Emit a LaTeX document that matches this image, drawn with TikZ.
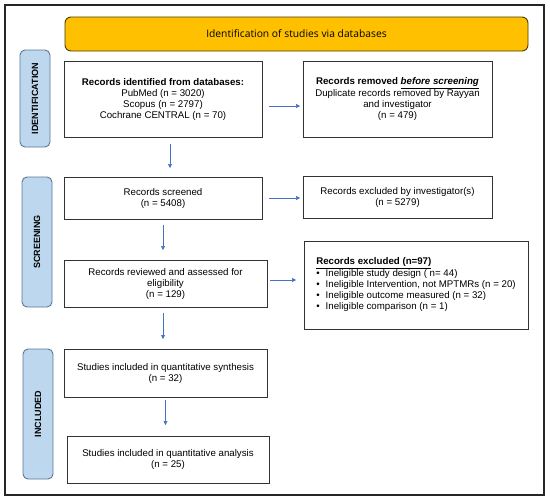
\documentclass[tikz,border=0pt]{standalone}
\usepackage{fontspec}
\setmainfont{Liberation Sans}
\newfontfamily\bannerfont{Open Sans}
\usetikzlibrary{arrows.meta,calc}
\newcommand\myul[1]{\underline{#1}}
\definecolor{bannerfill}{HTML}{FFC000}
\definecolor{bannerline}{HTML}{4A3C00}
\definecolor{labfill}{HTML}{BDD7EE}
\definecolor{labline}{HTML}{5A7894}
\definecolor{arrowblue}{HTML}{4472C4}
\definecolor{boxline}{HTML}{333333}
\begin{document}
\begin{tikzpicture}[x=1pt,y=-1pt,
  every node/.style={inner sep=0pt,outer sep=0pt},
  boxnode/.style={draw=boxline,line width=0.9pt,fill=white,align=center,
    font=\fontsize{9.7}{11}\selectfont},
  phase/.style={draw=labline,line width=0.9pt,fill=labfill,rounded corners=5pt,
    minimum width=30pt,font=\fontsize{9}{11}\selectfont\bfseries},
  flow/.style={draw=arrowblue,line width=0.6pt,-{Triangle[length=4pt,width=4pt]}}]
\useasboundingbox (0,0) rectangle (550,499);
\draw[line width=1.4pt,draw=black!85] (5,5) rectangle (544,495);

\node[draw=bannerline,line width=0.9pt,fill=bannerfill,rounded corners=6pt,
  minimum width=463pt,minimum height=34pt,font=\bannerfont\fontsize{10.3}{12}\selectfont]
  (banner) at (296.5,34) {Identification of studies via databases};

\node[phase,minimum height=97pt] (lid) at (35,98.5) {\rotatebox{90}{IDENTIFICATION}};
\node[phase,minimum height=130pt] (lsc) at (37,242) {\rotatebox{90}{SCREENING}};
\node[phase,minimum height=130pt] (lin) at (38,414) {\rotatebox{90}{INCLUDED}};

\node[boxnode,minimum width=198pt,minimum height=76pt] (b1) at (163,99)
  {\textbf{Records identified from databases:}\\PubMed (n = 3020)\\Scopus (n = 2797)\\Cochrane CENTRAL (n = 70)};
\node[boxnode,minimum width=189pt,minimum height=76pt] (b2) at (397.5,99)
  {\textbf{Records removed \myul{\textit{before screening}}}\\Duplicate records removed by Rayyan\\and investigator\\(n = 479)};
\node[boxnode,minimum width=198pt,minimum height=42pt] (b3) at (163,198)
  {Records screened\\(n = 5408)};
\node[boxnode,minimum width=189pt,minimum height=42pt] (b4) at (397.5,197.5)
  {Records excluded by investigator(s)\\(n = 5279)};
\node[boxnode,minimum width=203pt,minimum height=47pt] (b5) at (165.5,283.5)
  {Records reviewed and assessed for\\eligibility\\(n = 129)};
\node[boxnode,minimum width=224pt,minimum height=88pt,align=left] (b6) at (416,285)
  {\begin{tabular}{@{}l@{\hspace{6pt}}l@{}}
   \multicolumn{2}{@{}l@{}}{\textbf{\myul{Records excluded (n=97)}}}\\
   \textbullet & Ineligible study design ( n= 44)\\
   \textbullet & Ineligible Intervention, not MPTMRs (n = 20)\\
   \textbullet & Ineligible outcome measured (n = 32)\\
   \textbullet & Ineligible comparison (n = 1)
   \end{tabular}};
\node[boxnode,minimum width=203pt,minimum height=48pt] (b7) at (165.5,373)
  {Studies included in quantitative synthesis\\(n = 32)};
\node[boxnode,minimum width=202pt,minimum height=47pt] (b8) at (168,459.5)
  {Studies included in quantitative analysis\\(n = 25)};

\draw[flow,shorten <=7pt,shorten >=9pt] ($(b1.south)+(7,0)$) -- ($(b3.north)+(7,0)$);
\draw[flow,shorten <=6pt,shorten >=10pt] (b3.south) -- (b3.south |- b5.north);
\draw[flow,shorten <=6pt,shorten >=10pt] ($(b5.south)+(-2.5,0)$) -- ($(b7.north)+(-2.5,0)$);
\draw[flow,shorten <=3pt,shorten >=11pt] (b7.south) -- (b7.south |- b8.north);

\draw[flow,shorten <=7pt,shorten >=3pt] ($(b1.east)+(0,7)$) -- ($(b2.west)+(0,7)$);
\draw[flow,shorten <=7pt,shorten >=3pt] (b3.east) -- (b3.east -| b4.west);
\draw[flow,shorten <=3pt,shorten >=8pt] ($(b5.east)+(0,-3.5)$) -- ($(b5.east -| b6.west)+(0,-3.5)$);
\end{tikzpicture}
\end{document}
